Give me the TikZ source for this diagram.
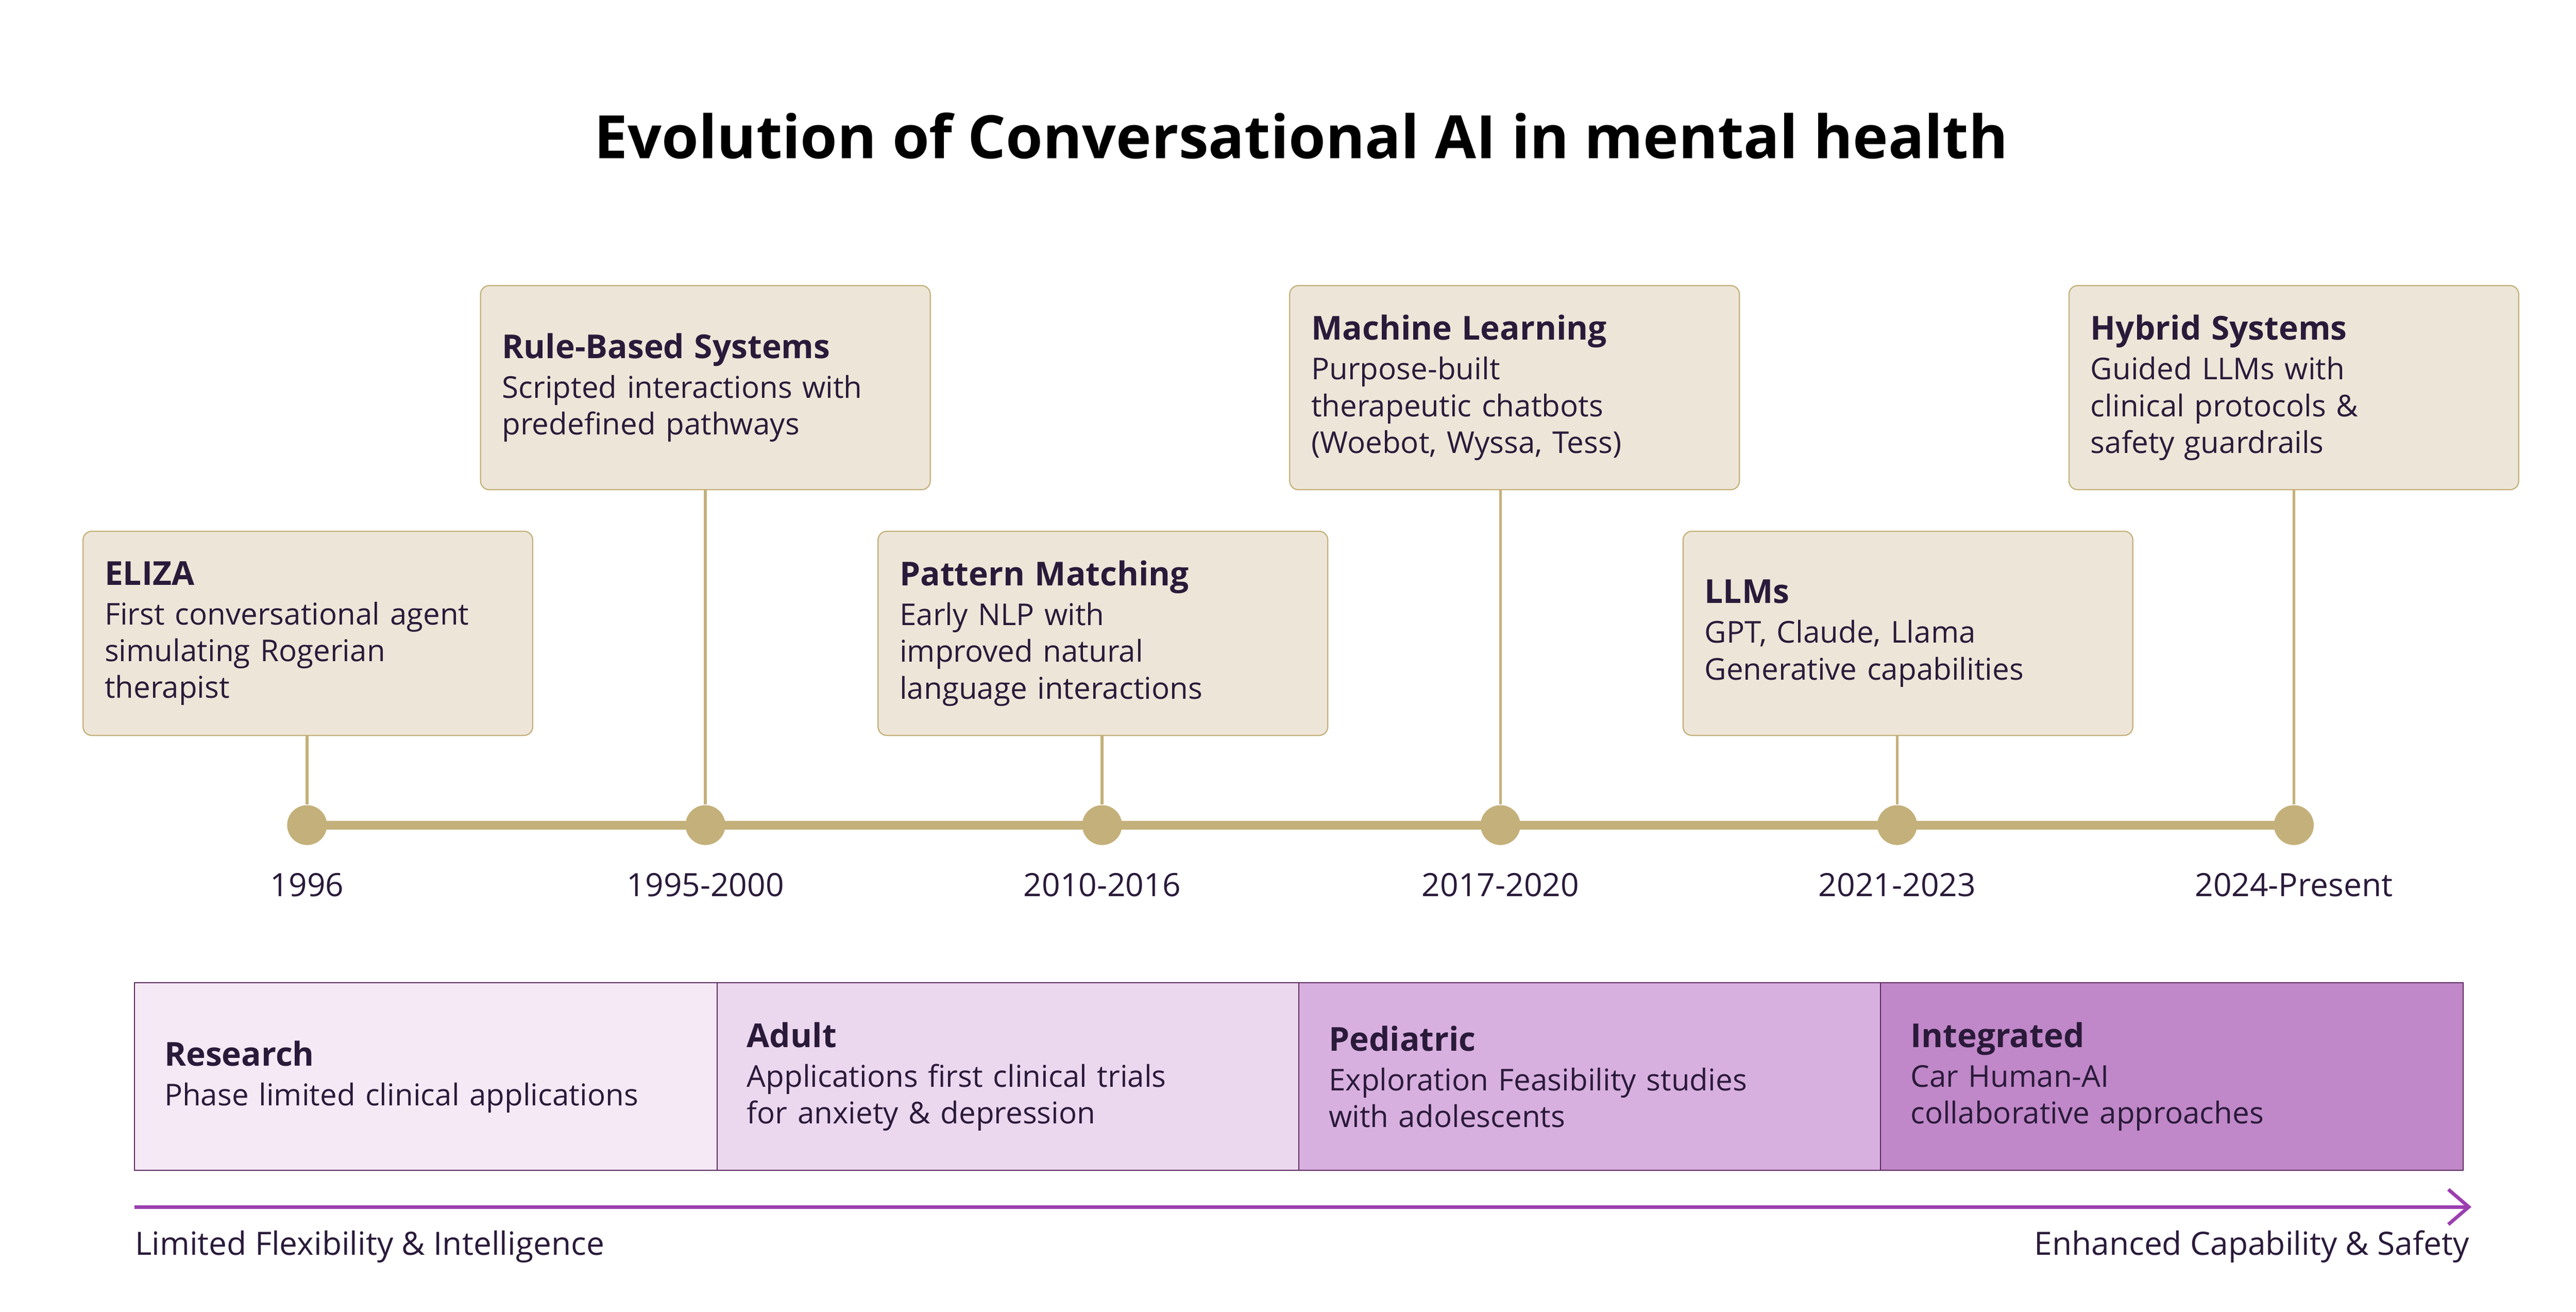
\documentclass[tikz,border=0pt]{standalone}
\usepackage{fontspec}
\setmainfont{Open Sans}
\usepackage{tikz}
\usetikzlibrary{arrows.meta}
\definecolor{ink}{HTML}{2A1A3A}
\definecolor{sand}{HTML}{EDE6D8}
\definecolor{gold}{HTML}{C4B07A}
\definecolor{plum}{HTML}{5A2A5E}
\definecolor{arrowc}{HTML}{9B3FB0}
\definecolor{ph1}{HTML}{F5E9F5}
\definecolor{ph2}{HTML}{EBD7EE}
\definecolor{ph3}{HTML}{D8B0DF}
\definecolor{ph4}{HTML}{C088C8}
\tikzstyle{event} = [rectangle, rounded corners=3pt, draw=gold, fill=sand, minimum width=5.42cm, minimum height=2.46cm, text width=4.9cm, inner xsep=0.26cm, align=left, text=ink, font=\fontsize{10.3}{12.6}\selectfont]
\tikzstyle{phase} = [rectangle, draw=plum, minimum width=7.02cm, minimum height=2.26cm, text width=6.3cm, inner xsep=0.36cm, align=left, text=ink, font=\fontsize{10.3}{12.6}\selectfont]
\tikzstyle{dot} = [circle, fill=gold, inner sep=0pt, minimum size=0.48cm]
\tikzstyle{year} = [text=ink, font=\fontsize{11}{14}\selectfont]
\tikzstyle{stem} = [gold, line width=1pt]
\newcommand{\hd}[1]{{\fontsize{11.3}{16}\selectfont\bfseries #1}\\[1pt]}
\begin{document}
\begin{tikzpicture}[x=0.02cm, y=-0.02cm]
\useasboundingbox (0,0) rectangle (1552,790);
\node (title) at (784,82) [text=black, font=\fontsize{20.5}{24}\selectfont\bfseries] {Evolution of Conversational AI in mental health};

% events
\node (eliza) at (185.5,381.5) [event] {\hd{ELIZA}First conversational agent\\ simulating Rogerian\\ therapist};
\node (rule) at (425,233.5) [event] {\hd{Rule-Based Systems}Scripted interactions with\\ predefined pathways};
\node (pattern) at (664.5,381.5) [event] {\hd{Pattern Matching}Early NLP with\\ improved natural\\ language interactions};
\node (ml) at (912.5,233.5) [event] {\hd{Machine Learning}Purpose-built\\ therapeutic chatbots\\ (Woebot, Wyssa, Tess)};
\node (llm) at (1149.5,381.5) [event] {\hd{LLMs}GPT, Claude, Llama\\ Generative capabilities};
\node (hybrid) at (1382,233.5) [event] {\hd{Hybrid Systems}Guided LLMs with\\ clinical protocols \&\\ safety guardrails};

% timeline
\draw [gold, line width=3pt] (185,497) -- (1382,497);
\node (d1) at (185,497) [dot] {};
\node (d2) at (425,497) [dot] {};
\node (d3) at (664,497) [dot] {};
\node (d4) at (904,497) [dot] {};
\node (d5) at (1143,497) [dot] {};
\node (d6) at (1382,497) [dot] {};
\draw [stem] (eliza.south -| d1) -- (d1);
\draw [stem] (rule.south -| d2) -- (d2);
\draw [stem] (pattern.south -| d3) -- (d3);
\draw [stem] (ml.south -| d4) -- (d4);
\draw [stem] (llm.south -| d5) -- (d5);
\draw [stem] (hybrid.south -| d6) -- (d6);
\node (y1) at (185,533) [year] {1996};
\node (y2) at (425,533) [year] {1995-2000};
\node (y3) at (664,533) [year] {2010-2016};
\node (y4) at (904,533) [year] {2017-2020};
\node (y5) at (1143,533) [year] {2021-2023};
\node (y6) at (1382,533) [year] {2024-Present};

% phases
\node (p1) at (256.5,648.5) [phase, fill=ph1] {\hd{Research}Phase limited clinical applications};
\node (p2) at (607.5,648.5) [phase, fill=ph2] {\hd{Adult}Applications first clinical trials\\ for anxiety \& depression};
\node (p3) at (958,648.5) [phase, fill=ph3] {\hd{Pediatric}Exploration Feasibility studies\\ with adolescents};
\node (p4) at (1308.5,648.5) [phase, fill=ph4] {\hd{Integrated}Car Human-AI\\ collaborative approaches};

% progress arrow
\coordinate (a0) at (81,727);
\coordinate (a1) at (1489,727);
\draw [arrowc, line width=1.2pt, -{Straight Barb[length=7pt, width=12pt]}] (a0) -- (a1);
\node (lo) at (81,751) [anchor=west, inner sep=0pt, text=ink, font=\fontsize{11}{14}\selectfont] {Limited Flexibility \& Intelligence};
\node (hi) at (1488,751) [anchor=east, inner sep=0pt, text=ink, font=\fontsize{11}{14}\selectfont] {Enhanced Capability \& Safety};
\end{tikzpicture}
\end{document}
